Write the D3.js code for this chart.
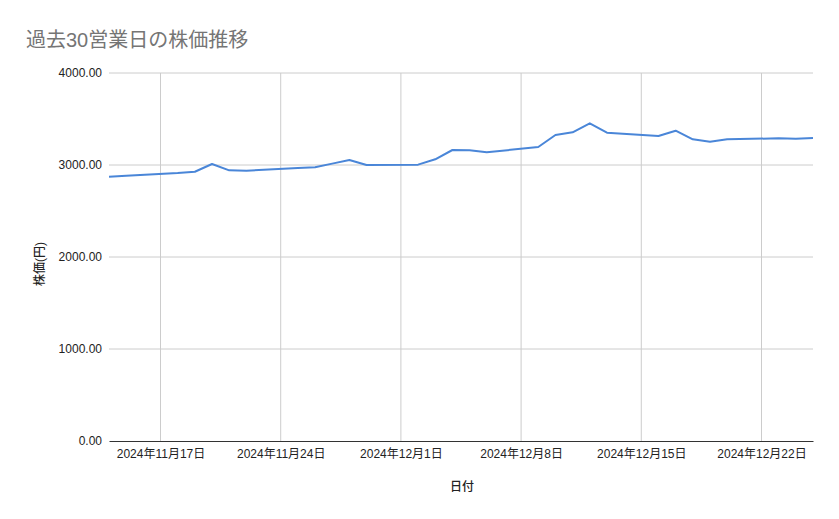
<!DOCTYPE html>
<html><head><meta charset="utf-8">
<script src="https://cdn.jsdelivr.net/npm/d3@7"></script>
<style>
body{margin:0;background:#fff;}
text{font-family:"Liberation Sans","Noto Sans CJK JP",Arial,sans-serif;}
</style></head>
<body><svg id="c" width="839" height="519"></svg>
<script>
const dates = ["2024-11-14","2024-11-15","2024-11-18","2024-11-19","2024-11-20","2024-11-21","2024-11-22",
"2024-11-25","2024-11-26","2024-11-27","2024-11-28","2024-11-29",
"2024-12-02","2024-12-03","2024-12-04","2024-12-05","2024-12-06",
"2024-12-09","2024-12-10","2024-12-11","2024-12-12","2024-12-13",
"2024-12-16","2024-12-17","2024-12-18","2024-12-19","2024-12-20",
"2024-12-23","2024-12-24","2024-12-25"];
const prices = [2873,2884,2912,2927,3011,2942,2938,
2967,2975,3015,3054,3000,
3004,3062,3163,3160,3138,
3196,3326,3355,3453,3351,
3315,3373,3279,3253,3279,
3290,3286,3293];
const yTicks = [0,1000,2000,3000,4000];
const xTicks = ["2024-11-17","2024-11-24","2024-12-01","2024-12-08","2024-12-15","2024-12-22"];

const parse = d3.timeParse("%Y-%m-%d");
const data = dates.map((d,i)=>({date:parse(d), v:prices[i]}));
const svg = d3.select("#c");
const L=109, R=813, T=73, B=441;
const x = d3.scaleTime().domain([parse("2024-11-14"), parse("2024-12-25")]).range([L,R]);
const y = d3.scaleLinear().domain([0,4000]).range([B,T]);

// horizontal grid
svg.append("g").selectAll("line").data(yTicks.slice(1)).join("line")
  .attr("x1",L).attr("x2",R).attr("y1",d=>y(d)).attr("y2",d=>y(d))
  .attr("stroke","#cccccc").attr("stroke-width",1);
// vertical grid
svg.append("g").selectAll("line").data(xTicks.map(parse)).join("line")
  .attr("x1",d=>x(d)).attr("x2",d=>x(d)).attr("y1",T).attr("y2",B)
  .attr("stroke","#cccccc").attr("stroke-width",1);

// y axis labels
const yAxis = d3.axisLeft(y).tickValues(yTicks).tickFormat(d3.format(".2f")).tickSize(0).tickPadding(7);
const gy = svg.append("g").attr("transform",`translate(${L},0)`).call(yAxis);
gy.select(".domain").remove();
gy.selectAll("text").attr("font-size",12).attr("fill","#222").style("font-family","'Liberation Sans',Arial,sans-serif");

// x axis
const fmt = d3.timeFormat("%Y年%-m月%-d日");
const xAxis = d3.axisBottom(x).tickValues(xTicks.map(parse)).tickFormat(fmt).tickSize(0).tickPadding(8);
const gx = svg.append("g").attr("transform",`translate(0,${B})`).call(xAxis);
gx.select(".domain").attr("stroke","#333").attr("stroke-width",1);
gx.selectAll("text").attr("font-size",12).attr("fill","#222");

// line
svg.append("path").datum(data)
  .attr("d", d3.line().x(d=>x(d.date)).y(d=>y(d.v)))
  .attr("fill","none").attr("stroke","#4a86d8").attr("stroke-width",2)
  .attr("stroke-linejoin","round");

// titles
svg.append("text").attr("x",26).attr("y",47).attr("font-size",20).attr("fill","#757575").text("過去30営業日の株価推移");
svg.append("text").attr("transform","translate(44,264) rotate(-90)").attr("text-anchor","middle")
  .attr("font-size",12).attr("font-weight","500").attr("fill","#222").text("株価(円)");
svg.append("text").attr("x",462).attr("y",491).attr("text-anchor","middle")
  .attr("font-size",12).attr("font-weight","500").attr("fill","#222").text("日付");
</script></body></html>
